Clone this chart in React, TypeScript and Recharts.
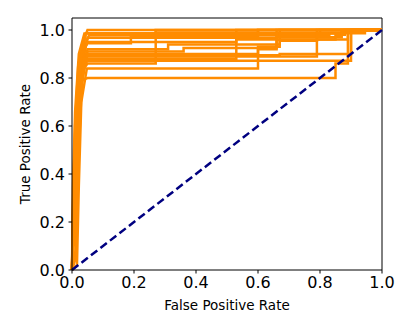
import { LineChart, Line, XAxis, YAxis, ReferenceLine } from 'recharts'

type Pt = { fpr: number; tpr: number }

const toPoints = (pairs: number[][]): Pt[] => pairs.map(([fpr, tpr]) => ({ fpr, tpr }))

// ROC curves, one per fold / model as [fpr, tpr]
const roc1 = [[0, 0], [0.004, 0.3], [0.01, 0.6], [0.02, 0.85], [0.035, 0.95], [0.05, 1.0], [1, 1]]
const roc2 = [[0, 0], [0.006, 0.25], [0.015, 0.6], [0.03, 0.88], [0.045, 0.986], [0.945, 0.986], [0.945, 1.0], [1, 1]]
const roc3 = [[0, 0], [0.008, 0.4], [0.02, 0.7], [0.04, 0.93], [0.055, 0.978], [0.83, 0.978], [0.83, 0.985], [0.87, 0.985], [0.87, 0.992], [0.91, 0.992], [0.91, 1.0], [1, 1]]
const roc4 = [[0, 0], [0.003, 0.2], [0.012, 0.55], [0.025, 0.8], [0.05, 0.968], [0.66, 0.968], [0.66, 1.0], [1, 1]]
const roc5 = [[0, 0], [0.01, 0.3], [0.02, 0.62], [0.035, 0.85], [0.05, 0.92], [0.31, 0.92], [0.31, 0.94], [0.67, 0.94], [0.67, 1.0], [1, 1]]
const roc6 = [[0, 0], [0.005, 0.35], [0.018, 0.68], [0.03, 0.86], [0.05, 0.9], [0.6, 0.9], [0.6, 0.93], [0.67, 0.93], [0.67, 0.955], [0.79, 0.955], [0.79, 1.0], [1, 1]]
const roc7 = [[0, 0], [0.012, 0.05], [0.018, 0.4], [0.028, 0.75], [0.045, 0.88], [0.53, 0.88], [0.53, 0.96], [0.85, 0.96], [0.85, 0.98], [0.88, 0.98], [0.88, 1.0], [1, 1]]
const roc8 = [[0, 0], [0.007, 0.3], [0.016, 0.65], [0.03, 0.84], [0.05, 0.872], [0.9, 0.872], [0.9, 1.0], [1, 1]]
const roc9 = [[0, 0], [0.005, 0.28], [0.014, 0.58], [0.028, 0.82], [0.05, 0.86], [0.27, 0.86], [0.27, 0.99], [0.6, 0.99], [0.6, 1.0], [1, 1]]
const roc10 = [[0, 0], [0.016, 0.02], [0.022, 0.35], [0.03, 0.7], [0.048, 0.84], [0.6, 0.84], [0.6, 0.92], [0.66, 0.92], [0.66, 0.972], [0.8, 0.972], [0.8, 1.0], [1, 1]]
const roc11 = [[0, 0], [0.006, 0.3], [0.015, 0.62], [0.03, 0.79], [0.05, 0.8], [0.85, 0.8], [0.85, 0.86], [0.89, 0.86], [0.89, 0.99], [0.92, 0.99], [0.92, 1.0], [1, 1]]
const roc12 = [[0, 0], [0.004, 0.32], [0.012, 0.64], [0.026, 0.86], [0.045, 0.89], [0.79, 0.89], [0.79, 0.97], [0.87, 0.97], [0.87, 1.0], [1, 1]]
const roc13 = [[0, 0], [0.009, 0.38], [0.02, 0.72], [0.034, 0.9], [0.05, 0.95], [0.53, 0.95], [0.53, 1.0], [1, 1]]
const roc14 = [[0, 0], [0.003, 0.34], [0.01, 0.66], [0.022, 0.9], [0.04, 0.985], [0.27, 0.985], [0.27, 1.0], [1, 1]]
const roc15 = [[0, 0], [0.014, 0.1], [0.02, 0.45], [0.032, 0.78], [0.05, 0.91], [0.36, 0.91], [0.36, 0.925], [0.66, 0.925], [0.66, 0.96], [0.89, 0.96], [0.89, 1.0], [1, 1]]
const roc16 = [[0, 0], [0.006, 0.36], [0.016, 0.7], [0.03, 0.9], [0.05, 0.945], [0.19, 0.945], [0.19, 0.975], [0.6, 0.975], [0.6, 1.0], [1, 1]]
const roc17 = [[0, 0], [0.011, 0.2], [0.02, 0.55], [0.036, 0.84], [0.05, 0.895], [0.67, 0.895], [0.67, 0.9], [0.9, 0.9], [0.9, 1.0], [1, 1]]

const rocCurves = [roc1, roc2, roc3, roc4, roc5, roc6, roc7, roc8, roc9, roc10, roc11, roc12, roc13, roc14, roc15, roc16, roc17]
const chance = [[0, 0], [1, 1]]

const xTicks = [0, 0.2, 0.4, 0.6, 0.8, 1.0]
const yTicks = [0, 0.2, 0.4, 0.6, 0.8, 1.0]

const font = 'DejaVu Sans, sans-serif'
const tickStyle = { fontSize: 16, fill: '#000', fontFamily: font }
const labelStyle = { fontSize: 13.5, fill: '#000', fontFamily: font }

export default function App() {
  return (
    <div style={{ width: 415, height: 332, position: 'absolute', left: 0, top: 0, background: '#fff' }}>
      <LineChart width={415} height={332} margin={{ top: 18, right: 33, bottom: 0, left: 0 }}>
        <XAxis
          type="number"
          dataKey="fpr"
          domain={[0, 1]}
          ticks={xTicks}
          allowDuplicatedCategory={false}
          tickFormatter={(v: number) => v.toFixed(1)}
          tick={tickStyle}
          tickSize={3.5}
          tickMargin={3}
          height={62}
          stroke="#000"
          label={{ value: 'False Positive Rate', position: 'center', dy: 4, style: labelStyle }}
        />
        <YAxis
          type="number"
          dataKey="tpr"
          domain={[0, 1.05]}
          ticks={yTicks}
          tickFormatter={(v: number) => v.toFixed(1)}
          tick={tickStyle}
          tickSize={3.5}
          tickMargin={3.5}
          width={72}
          stroke="#000"
          label={{ value: 'True Positive Rate', angle: -90, position: 'center', dx: -11, style: labelStyle }}
        />
        <ReferenceLine y={1.05} stroke="#000" />
        <ReferenceLine x={1} stroke="#000" />
        {rocCurves.map((c, i) => (
          <Line
            key={i}
            data={toPoints(c)}
            dataKey="tpr"
            type="linear"
            stroke="#ff8c00"
            strokeWidth={2.5}
            dot={false}
            isAnimationActive={false}
          />
        ))}
        <Line
          data={toPoints(chance)}
          dataKey="tpr"
          type="linear"
          stroke="#000080"
          strokeWidth={2.5}
          strokeDasharray="8 4"
          dot={false}
          isAnimationActive={false}
        />
      </LineChart>
    </div>
  )
}
